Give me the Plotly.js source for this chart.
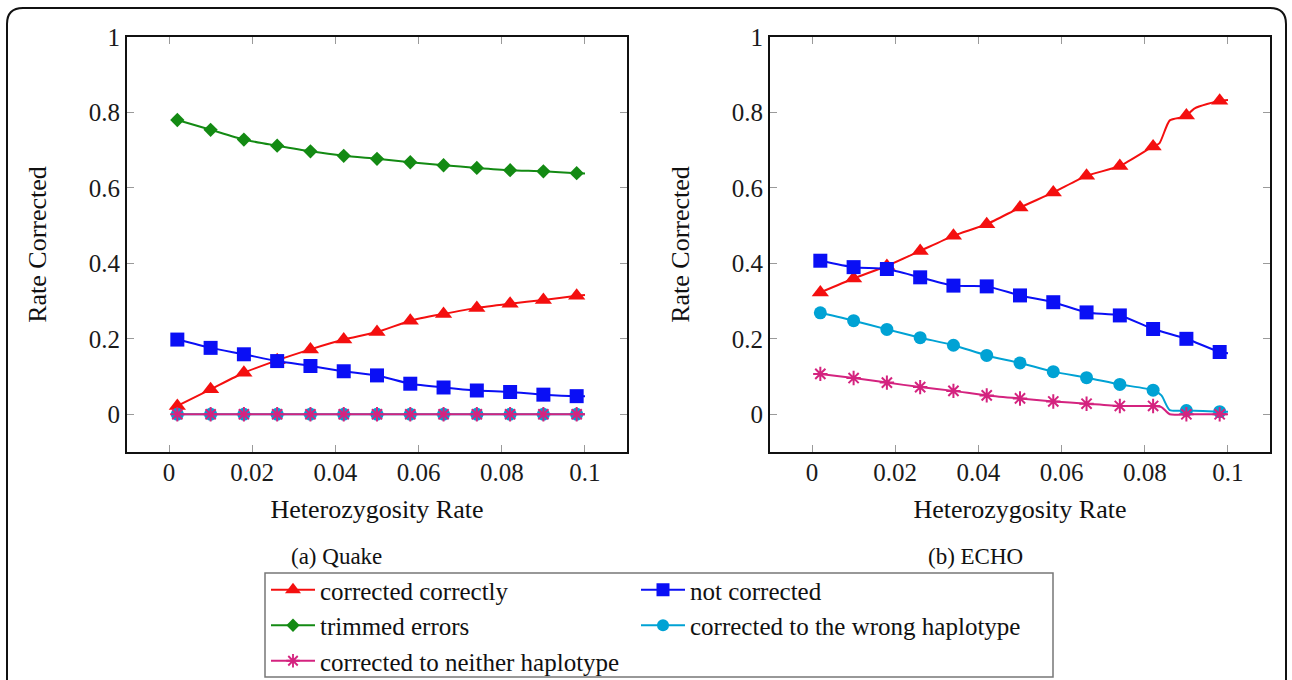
<!DOCTYPE html>
<html><head><meta charset="utf-8">
<script src="https://cdn.plot.ly/plotly-3.0.1.min.js"></script>
<style>html,body{margin:0;padding:0;background:#fff;} #chart{width:1292px;height:680px;}</style>
</head><body><div id="chart"></div>
<script>
// ---------- data ----------
const markX = [0.002,0.010,0.018,0.026,0.034,0.042,0.050,0.058,0.066,0.074,0.082,0.090,0.098];
const seriesNames = ['corrected correctly','not corrected','trimmed errors','corrected to the wrong haplotype','corrected to neither haplotype'];
const tickX = [0,0.02,0.04,0.06,0.08,0.1];
const tickY = [0,0.2,0.4,0.6,0.8,1];
const subCaptions = ['(a) Quake','(b) ECHO'];
const xTitle = 'Heterozygosity Rate';
const yTitle = 'Rate Corrected';

// (a) Quake
const qX = [0.002,0.010,0.018,0.026,0.034,0.042,0.050,0.058,0.066,0.074,0.082,0.090,0.098,0.100];
const qCorrect = [0.022,0.066,0.110,0.143,0.172,0.198,0.218,0.248,0.266,0.282,0.293,0.303,0.314,0.316];
const qNot     = [0.198,0.176,0.159,0.141,0.128,0.114,0.103,0.081,0.071,0.063,0.059,0.052,0.048,0.048];
const qTrim    = [0.780,0.754,0.728,0.712,0.697,0.685,0.677,0.668,0.660,0.653,0.647,0.644,0.639,0.638];
const qWrong   = [0,0,0,0,0,0,0,0,0,0,0,0,0,0];
const qNeither = [0,0,0,0,0,0,0,0,0,0,0,0,0,0];

// (b) ECHO
const eCorrectX = [0.002,0.010,0.018,0.026,0.034,0.042,0.050,0.058,0.066,0.074,0.082,0.0835,0.086,0.0889,0.090,0.092,0.098,0.100];
const eCorrect  = [0.323,0.360,0.393,0.433,0.473,0.504,0.548,0.588,0.632,0.658,0.710,0.718,0.779,0.787,0.792,0.811,0.831,0.833];
const eNotX = [0.002,0.010,0.018,0.026,0.034,0.042,0.050,0.058,0.066,0.074,0.082,0.090,0.098,0.100];
const eNot  = [0.407,0.390,0.385,0.363,0.341,0.339,0.315,0.297,0.270,0.262,0.226,0.200,0.165,0.162];
const eWrongX = [0.002,0.010,0.018,0.026,0.034,0.042,0.050,0.058,0.066,0.074,0.082,0.084,0.086,0.090,0.098,0.100];
const eWrong  = [0.269,0.248,0.225,0.203,0.183,0.156,0.136,0.113,0.097,0.079,0.064,0.050,0.011,0.010,0.007,0.007];
const eNeitherX = [0.002,0.010,0.018,0.026,0.034,0.042,0.050,0.058,0.066,0.074,0.082,0.084,0.086,0.090,0.098,0.100];
const eNeither  = [0.107,0.096,0.084,0.072,0.062,0.050,0.042,0.034,0.028,0.022,0.022,0.019,0.000,0.000,0.000,0.000];

// ---------- styles ----------
const styles = [
  {color:'#f40f0f', symbol:'triangle-up', size:15},
  {color:'#0a0ff5', symbol:'square', size:14},
  {color:'#138a13', symbol:'diamond', size:11},
  {color:'#00a2d4', symbol:'circle', size:13},
  {color:'#d4237f', symbol:'asterisk-open', size:12}
];
const serif = '"Liberation Serif", "Times New Roman", Times, serif';
const W = 1292, H = 680;
const px = v => v / W, py = v => 1 - v / H;

function isMark(x){ return markX.some(m => Math.abs(m - x) < 1e-9); }

function mk(i, xs, ys, xa, ya, legendId, show){
  const s = styles[i];
  const sizes = xs.map(x => isMark(x) ? s.size : 0);
  const isAst = s.symbol.indexOf('asterisk') === 0;
  return {
    type:'scatter', mode:'lines+markers', name: seriesNames[i],
    x: xs, y: ys, xaxis: xa, yaxis: ya,
    legend: legendId, showlegend: show,
    line:{color:s.color, width:2, shape:'spline', smoothing:0.6},
    marker:{color:s.color, symbol:s.symbol, size:sizes, opacity:1,
      line: isAst ? {color:s.color, width: xs.map(x => isMark(x) ? 2 : 0)} : {width:0}},
    hoverinfo:'x+y+name'
  };
}

const traces = [
  mk(0, qX, qCorrect, 'x', 'y', 'legend', true),
  mk(1, qX, qNot, 'x', 'y', 'legend2', true),
  mk(2, qX, qTrim, 'x', 'y', 'legend', true),
  mk(3, qX, qWrong, 'x', 'y', 'legend2', true),
  mk(4, qX, qNeither, 'x', 'y', 'legend', true),
  mk(0, eCorrectX, eCorrect, 'x2', 'y2', 'legend', false),
  mk(1, eNotX, eNot, 'x2', 'y2', 'legend2', false),
  mk(3, eWrongX, eWrong, 'x2', 'y2', 'legend2', false),
  mk(4, eNeitherX, eNeither, 'x2', 'y2', 'legend', false)
];

const axCommon = {
  showline:true, linecolor:'#111', linewidth:2, mirror:'ticks',
  ticks:'inside', ticklen:7, tickcolor:'#9a9a9a', tickwidth:1,
  showgrid:false, zeroline:false, automargin:false,
  tickfont:{family:serif, size:25, color:'#1a1a1a'}
};
function xAx(dom, anchor){
  return Object.assign({}, axCommon, {domain:dom, anchor:anchor, range:[-0.0101,0.1101],
    tickvals:tickX, ticklabelstandoff:-3,
    title:{text:xTitle, font:{family:serif, size:26, color:'#111'}, standoff:15}});
}
function yAx(dom, anchor){
  return Object.assign({}, axCommon, {domain:dom, anchor:anchor, range:[-0.1,1],
    tickvals:tickY, title:{text:yTitle, font:{family:serif, size:26, color:'#111'}, standoff:35}});
}
const yDom = [py(452), py(37)];
const legendCommon = {
  orientation:'v', xanchor:'left', yanchor:'top', bgcolor:'rgba(0,0,0,0)', borderwidth:0,
  font:{family:serif, size:25, color:'#111'}, itemwidth:44, tracegroupgap:0
};

const layout = {
  width:W, height:H, margin:{l:0,r:0,t:0,b:0, autoexpand:false},
  paper_bgcolor:'#fff', plot_bgcolor:'#fff',
  xaxis: xAx([px(127), px(627)], 'y'),
  yaxis: yAx(yDom, 'x'),
  xaxis2: xAx([px(770), px(1270)], 'y2'),
  yaxis2: yAx(yDom, 'x2'),
  legend: Object.assign({}, legendCommon, {x:px(266), y:py(567)}),
  legend2: Object.assign({}, legendCommon, {x:px(636), y:py(567)}),
  annotations: [
    {text:subCaptions[0], xref:'paper', yref:'paper', x:px(336), y:py(556), xanchor:'center', yanchor:'middle', showarrow:false, font:{family:serif, size:23, color:'#111'}},
    {text:subCaptions[1], xref:'paper', yref:'paper', x:px(976), y:py(556), xanchor:'center', yanchor:'middle', showarrow:false, font:{family:serif, size:23, color:'#111'}}
  ],
  shapes: [
    {type:'rect', xref:'paper', yref:'paper', x0:px(265), x1:px(1053), y0:py(677), y1:py(573), line:{color:'#777', width:1.5}, layer:'below'},
    {type:'path', xref:'paper', yref:'paper', line:{color:'#111', width:2},
     path:`M ${px(7)},${py(720)} L ${px(7)},${py(24)} Q ${px(7)},${py(8)} ${px(23)},${py(8)} L ${px(1270)},${py(8)} Q ${px(1286)},${py(8)} ${px(1286)},${py(24)} L ${px(1286)},${py(720)}`}
  ],
  showlegend:true
};

Plotly.newPlot('chart', traces, layout, {displayModeBar:false, staticPlot:true});
</script></body></html>
